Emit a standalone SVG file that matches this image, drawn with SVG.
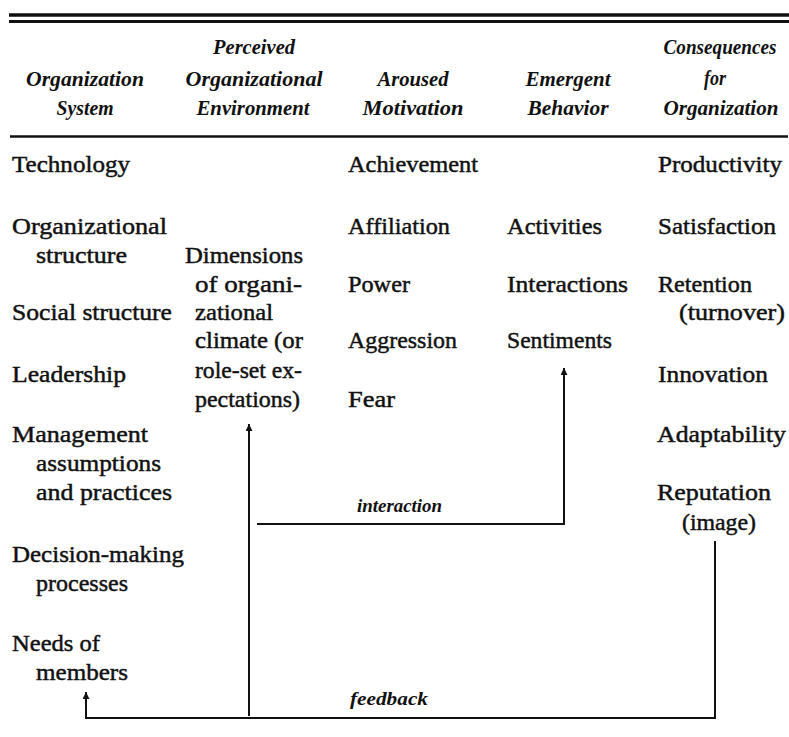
<svg xmlns="http://www.w3.org/2000/svg" width="789" height="737" viewBox="0 0 789 737">
<defs>
<style>
.b{font-family:"Liberation Serif","Times New Roman",serif;font-size:23px;fill:#111;stroke:#111;stroke-width:0.45px}
.h{font-family:"Liberation Serif","Times New Roman",serif;font-size:20px;font-style:italic;font-weight:bold;fill:#111;text-anchor:middle}
.l{font-family:"Liberation Serif","Times New Roman",serif;font-size:18px;font-style:italic;font-weight:bold;fill:#111}
.rule{stroke:#111;fill:none}
.c{stroke:#111;stroke-width:2;fill:none}
</style>
<marker id="ah" markerUnits="userSpaceOnUse" markerWidth="8" markerHeight="8" refX="7" refY="3.5" orient="auto">
<path d="M0,0 L7,3.5 L0,7 z" fill="#111"/>
</marker>
</defs>
<rect width="789" height="737" fill="#fff"/>
<g id="rules">
<line class="rule" x1="9" y1="15" x2="789" y2="15" stroke-width="3.5"/>
<line class="rule" x1="9" y1="21.5" x2="789" y2="21.5" stroke-width="3"/>
<line class="rule" x1="10" y1="136.5" x2="788" y2="136.5" stroke-width="2.5"/>
</g>
<g id="headers">
<g id="h-org-system"><text class="h" x="85" y="86" textLength="118" lengthAdjust="spacingAndGlyphs">Organization</text><text class="h" x="85" y="115" textLength="57" lengthAdjust="spacingAndGlyphs">System</text></g>
<g id="h-perceived"><text class="h" x="254" y="54" textLength="82" lengthAdjust="spacingAndGlyphs">Perceived</text><text class="h" x="254" y="86" textLength="137" lengthAdjust="spacingAndGlyphs">Organizational</text><text class="h" x="253" y="115" textLength="113" lengthAdjust="spacingAndGlyphs">Environment</text></g>
<g id="h-aroused"><text class="h" x="413" y="86" textLength="71" lengthAdjust="spacingAndGlyphs">Aroused</text><text class="h" x="413" y="115" textLength="101" lengthAdjust="spacingAndGlyphs">Motivation</text></g>
<g id="h-emergent"><text class="h" x="568" y="86" textLength="85" lengthAdjust="spacingAndGlyphs">Emergent</text><text class="h" x="568" y="115" textLength="81" lengthAdjust="spacingAndGlyphs">Behavior</text></g>
<g id="h-consequences"><text class="h" x="720" y="54" textLength="113" lengthAdjust="spacingAndGlyphs">Consequences</text><text class="h" x="715" y="85" textLength="22" lengthAdjust="spacingAndGlyphs">for</text><text class="h" x="721" y="115" textLength="115" lengthAdjust="spacingAndGlyphs">Organization</text></g>
</g>
<g id="col-system">
<g id="technology"><text class="b" x="12" y="172" textLength="118" lengthAdjust="spacingAndGlyphs">Technology</text></g>
<g id="org-structure"><text class="b" x="12" y="234" textLength="155" lengthAdjust="spacingAndGlyphs">Organizational</text><text class="b" x="36" y="263" textLength="91" lengthAdjust="spacingAndGlyphs">structure</text></g>
<g id="social-structure"><text class="b" x="12" y="320" textLength="160" lengthAdjust="spacingAndGlyphs">Social structure</text></g>
<g id="leadership"><text class="b" x="12" y="382" textLength="114" lengthAdjust="spacingAndGlyphs">Leadership</text></g>
<g id="management"><text class="b" x="12" y="442" textLength="136" lengthAdjust="spacingAndGlyphs">Management</text><text class="b" x="36" y="471" textLength="125" lengthAdjust="spacingAndGlyphs">assumptions</text><text class="b" x="36" y="500" textLength="136" lengthAdjust="spacingAndGlyphs">and practices</text></g>
<g id="decision-making"><text class="b" x="12" y="562" textLength="172" lengthAdjust="spacingAndGlyphs">Decision-making</text><text class="b" x="36" y="591" textLength="92" lengthAdjust="spacingAndGlyphs">processes</text></g>
<g id="needs"><text class="b" x="12" y="651" textLength="88" lengthAdjust="spacingAndGlyphs">Needs of</text><text class="b" x="36" y="680" textLength="92" lengthAdjust="spacingAndGlyphs">members</text></g>
</g>
<g id="col-environment">
<g id="climate"><text class="b" x="185" y="263" textLength="118" lengthAdjust="spacingAndGlyphs">Dimensions</text><text class="b" x="195" y="292" textLength="107" lengthAdjust="spacingAndGlyphs">of organi-</text><text class="b" x="195" y="320" textLength="78" lengthAdjust="spacingAndGlyphs">zational</text><text class="b" x="195" y="348" textLength="108" lengthAdjust="spacingAndGlyphs">climate (or</text><text class="b" x="195" y="378" textLength="107" lengthAdjust="spacingAndGlyphs">role-set ex-</text><text class="b" x="195" y="407" textLength="105" lengthAdjust="spacingAndGlyphs">pectations)</text></g>
</g>
<g id="col-motivation">
<g id="achievement"><text class="b" x="348" y="172" textLength="130" lengthAdjust="spacingAndGlyphs">Achievement</text></g>
<g id="affiliation"><text class="b" x="348" y="234" textLength="102" lengthAdjust="spacingAndGlyphs">Affiliation</text></g>
<g id="power"><text class="b" x="348" y="292" textLength="62" lengthAdjust="spacingAndGlyphs">Power</text></g>
<g id="aggression"><text class="b" x="348" y="348" textLength="109" lengthAdjust="spacingAndGlyphs">Aggression</text></g>
<g id="fear"><text class="b" x="348" y="407" textLength="47" lengthAdjust="spacingAndGlyphs">Fear</text></g>
</g>
<g id="col-behavior">
<g id="activities"><text class="b" x="507" y="234" textLength="95" lengthAdjust="spacingAndGlyphs">Activities</text></g>
<g id="interactions"><text class="b" x="507" y="292" textLength="121" lengthAdjust="spacingAndGlyphs">Interactions</text></g>
<g id="sentiments"><text class="b" x="507" y="348" textLength="105" lengthAdjust="spacingAndGlyphs">Sentiments</text></g>
</g>
<g id="col-consequences">
<g id="productivity"><text class="b" x="658" y="172" textLength="124" lengthAdjust="spacingAndGlyphs">Productivity</text></g>
<g id="satisfaction"><text class="b" x="658" y="234" textLength="118" lengthAdjust="spacingAndGlyphs">Satisfaction</text></g>
<g id="retention"><text class="b" x="658" y="292" textLength="94" lengthAdjust="spacingAndGlyphs">Retention</text><text class="b" x="679" y="320" textLength="106" lengthAdjust="spacingAndGlyphs">(turnover)</text></g>
<g id="innovation"><text class="b" x="658" y="382" textLength="110" lengthAdjust="spacingAndGlyphs">Innovation</text></g>
<g id="adaptability"><text class="b" x="657" y="442" textLength="129" lengthAdjust="spacingAndGlyphs">Adaptability</text></g>
<g id="reputation"><text class="b" x="657" y="500" textLength="114" lengthAdjust="spacingAndGlyphs">Reputation</text><text class="b" x="682" y="530" textLength="74" lengthAdjust="spacingAndGlyphs">(image)</text></g>
</g>
<g id="connectors">
<path class="c" d="M249,716 V424" marker-end="url(#ah)"/>
<path class="c" d="M257,524 H564 V368" marker-end="url(#ah)"/>
<path class="c" d="M715,541 V718 H86 V692" marker-end="url(#ah)"/>
<text class="l" x="357" y="512" textLength="85" lengthAdjust="spacingAndGlyphs">interaction</text>
<text class="l" x="350" y="705" textLength="78" lengthAdjust="spacingAndGlyphs">feedback</text>
</g>
</svg>
